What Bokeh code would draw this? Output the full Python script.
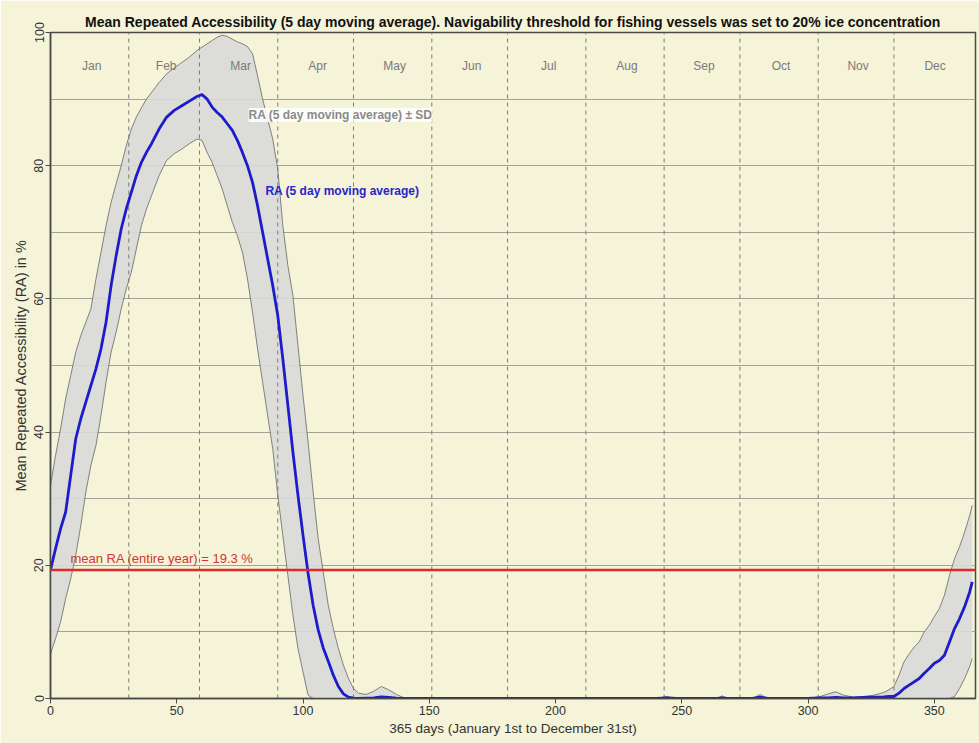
from bokeh.plotting import figure
from bokeh.models import Range1d, Span, Label, FixedTicker
from bokeh.core.properties import value
from bokeh.embed import file_html
from bokeh.resources import INLINE

# ---------------- data ----------------
days = [0, 2, 4, 6, 8, 10, 12, 14, 16, 18, 20, 22, 24, 26, 28, 30, 32, 34, 36, 38, 40,
        43, 46, 49, 52, 55, 58,
        60, 62, 64, 66, 68, 70, 72, 74, 76, 78, 80, 82, 84, 86, 88, 90, 92, 94, 96, 98,
        100, 102, 104, 106, 108, 110, 112, 114, 116, 118, 120, 122,
        125, 128, 131, 134, 137, 140,
        160, 200, 240, 244, 248,
        264, 266, 268, 278, 281, 284,
        300, 304, 308, 311, 314, 318, 322, 326, 330,
        332, 334, 336, 338, 340, 342, 344, 346, 348, 350, 352, 354, 356, 358, 360, 362, 364,
        365]

ra_mean = [19.3, 22.5, 25.5, 28.0, 33.5, 39.0, 42.0, 44.5, 47.0, 49.5, 52.5, 56.5, 62.0, 66.5, 70.5, 73.5, 76.0, 78.5, 80.5, 82.0, 83.3,
           85.5, 87.3, 88.3, 89.0, 89.7, 90.4,
           90.7, 90.0, 88.8, 88.0, 87.3, 86.3, 85.3, 83.8, 82.0, 80.0, 77.5, 74.0, 70.0, 66.0, 62.0, 57.5, 51.0, 44.0, 37.0, 30.5,
           24.5, 18.8, 14.0, 10.3, 7.6, 5.6, 3.5, 1.8, 0.7, 0.2, 0.05, 0.0,
           0.05, 0.1, 0.25, 0.15, 0.05, 0.0,
           0.0, 0.0, 0.0, 0.1, 0.0,
           0.0, 0.1, 0.0, 0.0, 0.2, 0.0,
           0.0, 0.1, 0.1, 0.15, 0.1, 0.1, 0.15, 0.2, 0.25,
           0.3, 0.3, 0.8, 1.5, 2.0, 2.5, 3.0, 3.8, 4.5, 5.3, 5.7, 6.5, 8.5, 10.5, 12.0, 13.8, 16.0,
           17.5]

ra_upper = [32.0, 36.5, 40.5, 45.0, 48.5, 52.0, 54.5, 56.5, 58.5, 63.0, 67.0, 71.0, 74.5, 77.3, 80.0, 83.0, 85.5, 87.3, 88.7, 90.0, 91.0,
            92.5, 93.8, 94.7, 95.5, 96.3, 97.3,
            97.8, 98.3, 98.8, 99.3, 99.6, 99.4, 99.0, 98.6, 98.3, 97.9, 96.8, 93.5, 90.0, 87.0, 84.0, 79.5, 71.0, 65.0, 60.5, 53.0,
            45.5, 38.5, 31.0, 24.0, 19.0, 14.0, 10.5, 7.5, 5.0, 3.0, 1.5, 0.8,
            0.6, 1.1, 1.8, 1.3, 0.6, 0.1,
            0.0, 0.0, 0.0, 0.3, 0.0,
            0.0, 0.4, 0.0, 0.0, 0.6, 0.0,
            0.0, 0.2, 0.7, 1.0, 0.5, 0.2, 0.3, 0.5, 0.9,
            1.3, 1.8, 3.5, 5.5, 6.7, 7.7, 8.5, 10.0, 11.0, 12.3, 13.5, 15.5, 18.5, 21.0, 22.8, 25.0, 27.5,
            29.0]

ra_lower = [6.7, 9.0, 11.5, 15.0, 18.0, 21.5, 26.0, 31.0, 35.0, 38.0, 42.5, 47.5, 52.0, 55.0, 58.5, 61.5, 64.0, 67.5, 71.0, 73.5, 75.5,
            78.5, 80.8, 81.8, 82.5, 83.3, 84.0,
            83.8, 82.0, 80.5, 78.5, 76.5, 74.0, 71.5, 69.5, 67.0, 63.0, 58.0, 52.5, 47.5, 42.5, 37.5, 30.5, 24.5, 18.5, 12.5, 7.5,
            4.0, 0.5, 0.0, 0.0, 0.0, 0.0, 0.0, 0.0, 0.0, 0.0, 0.0, 0.0,
            0.0, 0.0, 0.0, 0.0, 0.0, 0.0,
            0.0, 0.0, 0.0, 0.0, 0.0,
            0.0, 0.0, 0.0, 0.0, 0.0, 0.0,
            0.0, 0.0, 0.0, 0.0, 0.0, 0.0, 0.0, 0.0, 0.0,
            0.0, 0.0, 0.0, 0.0, 0.0, 0.0, 0.0, 0.0, 0.0, 0.0, 0.0, 0.0, 0.0, 0.3, 1.5, 3.0, 4.8,
            6.0]

mean_ra_year = 19.3
month_names = ["Jan", "Feb", "Mar", "Apr", "May", "Jun", "Jul", "Aug", "Sep", "Oct", "Nov", "Dec"]
month_starts = [0, 31, 59, 90, 120, 151, 181, 212, 243, 273, 304, 334, 365]
x_ticks = [0, 50, 100, 150, 200, 250, 300, 350]
y_ticks = [0, 20, 40, 60, 80, 100]
grid_levels = [10, 20, 30, 40, 50, 60, 70, 80, 90]

TITLE = ("Mean Repeated Accessibility (5 day moving average). Navigability threshold "
         "for fishing vessels was set to 20% ice concentration")

# ---------------- styling ----------------
BG = "#F5F3D8"
FONT = "Liberation Sans"

p = figure(width=979, height=743, output_backend="svg", toolbar_location=None,
           x_range=Range1d(0, 366.3), y_range=Range1d(0, 100),
           min_border_left=50, min_border_right=4, min_border_top=32, min_border_bottom=45,
           background_fill_color=BG, border_fill_color=BG,
           outline_line_color="#4a4a4a", outline_line_width=1.5)

p.title.text = TITLE
p.title.align = "center"
p.title.text_font = FONT
p.title.text_font_size = "14px"
p.title.text_font_style = "bold"
p.title.text_color = "#111111"
p.title.standoff = 6

for ax in (p.xaxis[0], p.yaxis[0]):
    ax.axis_line_color = "#4a4a4a"
    ax.axis_line_width = 1.5
    ax.major_tick_line_color = "#4a4a4a"
    ax.major_tick_in = 0
    ax.major_tick_out = 5
    ax.minor_tick_line_color = None
    ax.major_label_text_font = FONT
    ax.major_label_text_font_size = "12.5px"
    ax.major_label_text_color = "#333333"
    ax.major_label_standoff = 2
    ax.axis_label_text_font = FONT
    ax.axis_label_text_font_style = "normal"
    ax.axis_label_text_color = "#333333"
    ax.axis_label_standoff = 3

p.xaxis.axis_label_text_font_size = "13.5px"
p.yaxis.axis_label_text_font_size = "14.5px"
p.xaxis.ticker = FixedTicker(ticks=x_ticks)
p.yaxis.ticker = FixedTicker(ticks=y_ticks)
p.yaxis.major_label_orientation = "vertical"
p.xaxis.axis_label = "365 days (January 1st to December 31st)"
p.yaxis.axis_label = "Mean Repeated Accessibility (RA) in %"

p.xgrid.grid_line_color = None
p.ygrid.ticker = FixedTicker(ticks=grid_levels)
p.ygrid.grid_line_color = "#A3A294"
p.ygrid.grid_line_width = 1

# SD band
p.varea(x=days, y1=ra_lower, y2=ra_upper, fill_color="#D9D9D9", fill_alpha=0.9)
p.line(days, ra_upper, line_color="#666666", line_width=0.8)
p.line(days, ra_lower, line_color="#666666", line_width=0.8)

# month boundaries
p.segment(x0=month_starts[1:-1], y0=0, x1=month_starts[1:-1], y1=100,
          line_color="#7a7a7a", line_dash="4 4", line_width=1)

# month labels
month_mid = [(a + b) / 2 for a, b in zip(month_starts[:-1], month_starts[1:])]
p.text(x=month_mid, y=[95] * 12, text=month_names, text_font=value(FONT),
       text_font_size="12px", text_color="#7a7a7a", text_align="center",
       text_baseline="middle", x_offset=2)

# mean of the year
p.add_layout(Span(location=mean_ra_year, dimension="width", line_color="#DD2A2A",
                  line_width=2.5))

# mean curve
p.line(days, ra_mean, line_color="#1C1CCB", line_width=2.8)

# labels
p.add_layout(Label(x=7.9, y=mean_ra_year, y_offset=4, text="mean RA (entire year) = 19.3 %",
                   text_font=FONT, text_font_size="13px", text_color="#D03535"))
p.add_layout(Label(x=78.4, y=87.6, text="RA (5 day moving average) \u00b1 SD",
                   text_font=FONT, text_font_size="12px", text_font_style="bold",
                   text_color="#8A8A8A", text_baseline="middle",
                   background_fill_color="#FFFFFF", background_fill_alpha=0.85))
p.add_layout(Label(x=85.1, y=76.2, text="RA (5 day moving average)",
                   text_font=FONT, text_font_size="12px", text_font_style="bold",
                   text_color="#2626C8", text_baseline="middle"))

open("out.html", "w").write(file_html(p, INLINE))
